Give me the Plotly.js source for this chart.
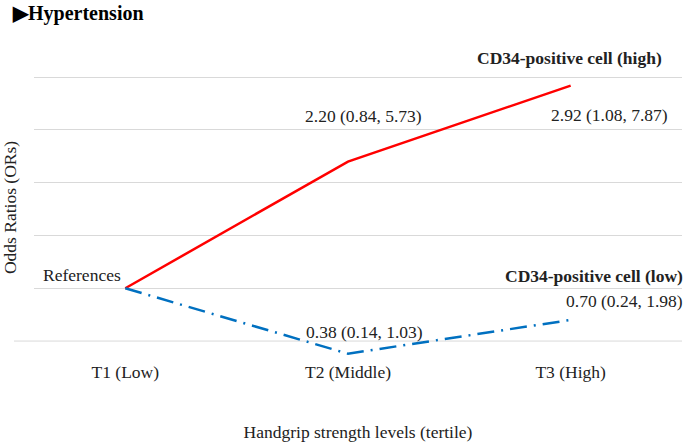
<!DOCTYPE html>
<html>
<head>
<meta charset="utf-8">
<script src="https://cdn.plot.ly/plotly-3.0.1.min.js"></script>
</head>
<body style="margin:0">
<div id="chart"></div>
<script>
// ---- data ----
const categories = ["T1 (Low)", "T2 (Middle)", "T3 (High)"];
const orHigh = [1, 2.20, 2.92];
const ciHighLow = [null, 0.84, 1.08];
const ciHighUp = [null, 5.73, 7.87];
const orLow = [1, 0.38, 0.70];
const ciLowLow = [null, 0.14, 0.24];
const ciLowUp = [null, 1.03, 1.98];
const seriesNames = ["CD34-positive cell (high)", "CD34-positive cell (low)"];
const refLabel = "References";
const gridVals = [1, 1.5, 2, 2.5, 3];

const xIdx = categories.map((c, i) => i);
const fmt = v => v.toFixed(2);
const lbl = (o, l, u) => fmt(o) + " (" + fmt(l) + ", " + fmt(u) + ")";

const FONT = "Liberation Serif, serif";
const FS = 17.5;

const traces = [
  {x: xIdx, y: orHigh, type: "scatter", mode: "lines", name: seriesNames[0],
   line: {color: "#FF0000", width: 2.5}},
  {x: xIdx, y: orLow, type: "scatter", mode: "lines", name: seriesNames[1],
   line: {color: "#0070C0", width: 2.5, dash: "17px,7px,2px,7px"}}
];

const ann = [];
const mk = (o) => Object.assign({showarrow: false, xanchor: "right", yanchor: "middle",
  font: {family: FONT, size: FS, color: "#222"}}, o);
ann.push(mk({x: 0, y: orHigh[0], xshift: -2, yshift: 13, text: refLabel}));
ann.push(mk({x: 1, y: orHigh[1], xanchor: "left", xshift: -45, yshift: 46, text: lbl(orHigh[1], ciHighLow[1], ciHighUp[1])}));
ann.push(mk({x: 2, y: orHigh[2], xshift: 99, yshift: -29, text: lbl(orHigh[2], ciHighLow[2], ciHighUp[2])}));
ann.push(mk({x: 2, y: orHigh[2], xshift: 93, yshift: 28, text: "<b>" + seriesNames[0] + "</b>"}));
ann.push(mk({x: 1, y: orLow[1], xanchor: "left", xshift: -44, yshift: 22, text: lbl(orLow[1], ciLowLow[1], ciLowUp[1])}));
ann.push(mk({x: 2, y: orLow[2], xshift: 114, yshift: 19, text: lbl(orLow[2], ciLowLow[2], ciLowUp[2])}));
ann.push(mk({x: 2, y: orLow[2], xshift: 114, yshift: 44, text: "<b>" + seriesNames[1] + "</b>"}));

const layout = {
  width: 685, height: 443,
  margin: {l: 34, r: 3, t: 56, b: 84},
  paper_bgcolor: "#fff", plot_bgcolor: "#fff",
  showlegend: false,
  font: {family: FONT, size: FS, color: "#222"},
  title: {text: "<b>\u25B6Hypertension</b>", x: 13/685, xref: "container", yref: "container", xanchor: "left",
          y: 1 - 13/443, yanchor: "middle", font: {family: FONT, size: 20, color: "#000"}},
  xaxis: {range: [-0.41, 2.5], tickvals: xIdx, ticktext: categories, showgrid: false,
          zeroline: false, showline: false, ticks: "", automargin: false,
          tickfont: {family: FONT, size: FS, color: "#222"},
          title: {text: "Handgrip strength levels (tertile)", standoff: 45,
                  font: {family: FONT, size: FS, color: "#222"}}},
  yaxis: {range: [0.33, 3.2], tickvals: gridVals, showticklabels: false, showgrid: true,
          gridcolor: "#d9d9d9", gridwidth: 1, zeroline: false, showline: false, ticks: "",
          automargin: false,
          title: {text: "Odds Ratios (ORs)", standoff: 12,
                  font: {family: FONT, size: FS, color: "#222"}}},
  shapes: [{type: "line", xref: "paper", yref: "y", x0: -20/648, x1: 1, y0: 0.5, y1: 0.5,
            line: {color: "#d9d9d9", width: 1}, layer: "below"}],
  annotations: ann
};

Plotly.newPlot("chart", traces, layout, {displayModeBar: false, staticPlot: true});
</script>
</body>
</html>
